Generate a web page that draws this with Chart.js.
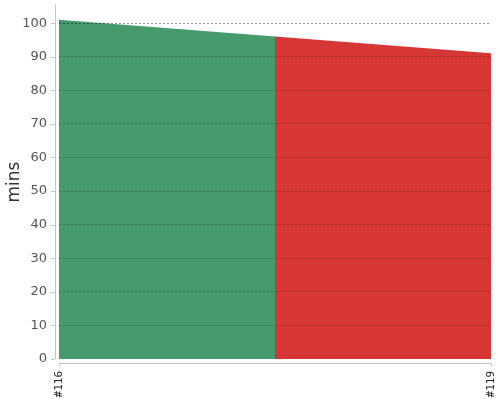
<!DOCTYPE html>
<html>
<head>
<meta charset="utf-8">
<script src="https://cdn.jsdelivr.net/npm/chart.js@4"></script>
<style>
  html, body { margin: 0; padding: 0; background: #fff; }
  #wrap { width: 500px; height: 400px; }
</style>
</head>
<body>
<div id="wrap"><canvas id="buildChart"></canvas></div>
<script>
// ビルド番号と所要時間（分）
const builds = ['#116', '#117', '#119'];
const passedMins = [101, 96, null];
const failedMins = [null, 96, 91];
const yTicks = [0, 10, 20, 30, 40, 50, 60, 70, 80, 90, 100];

// 軸のはみ出し余白は使わない
function fixBox(s, w, h) {
  if (w) s.width = w;
  if (h) s.height = h;
  s.paddingTop = 0;
  s.paddingBottom = 0;
  s.paddingLeft = 0;
  s.paddingRight = 0;
}

// グリッド色：塗りの上は薄め、0 は描かない
function gridColor(c) {
  if (!c.tick || c.tick.value === 0) return 'rgba(0,0,0,0)';
  return c.tick.value === 100 ? 'rgba(0,0,0,0.42)' : 'rgba(0,0,0,0.22)';
}

// 軸線はプロット領域から少し離して描く
const offsetAxes = {
  id: 'offsetAxes',
  afterDraw(chart) {
    const { ctx, chartArea: a, scales } = chart;
    ctx.save();
    ctx.strokeStyle = '#c4c4c4';
    ctx.lineWidth = 1;
    ctx.beginPath();
    ctx.moveTo(55.5, a.top - 1);
    ctx.lineTo(55.5, a.bottom);
    scales.y.ticks.forEach(t => {
      const y = Math.round(scales.y.getPixelForValue(t.value)) + 0.5;
      ctx.moveTo(51, y);
      ctx.lineTo(55, y);
    });
    ctx.moveTo(a.left, a.bottom + 4.5);
    ctx.lineTo(a.right, a.bottom + 4.5);
    [0, builds.length - 1].forEach(i => {
      const x = Math.round(scales.x.getPixelForValue(i)) + 0.5;
      ctx.moveTo(x, a.bottom + 4.5);
      ctx.lineTo(x, a.bottom + 7.5);
    });
    ctx.stroke();
    ctx.restore();
  }
};

new Chart(document.getElementById('buildChart'), {
  type: 'line',
  data: {
    labels: builds,
    datasets: [
      {
        data: passedMins,
        fill: 'origin',
        backgroundColor: '#459b6e',
        borderWidth: 0,
        pointRadius: 0,
        tension: 0
      },
      {
        data: failedMins,
        fill: 'origin',
        backgroundColor: '#d73636',
        borderWidth: 0,
        pointRadius: 0,
        tension: 0
      }
    ]
  },
  options: {
    responsive: true,
    maintainAspectRatio: false,
    animation: false,
    layout: { padding: { top: 5, right: 9, left: 0, bottom: 0 } },
    plugins: {
      legend: { display: false },
      tooltip: { enabled: false }
    },
    scales: {
      x: {
        offset: false,
        afterFit: (s) => fixBox(s, 0, 41),
        grid: { display: false },
        border: { display: false },
        ticks: {
          autoSkip: false,
          maxRotation: 90,
          minRotation: 90,
          padding: 4,
          color: '#222',
          font: { family: "'DejaVu Sans Mono', monospace", size: 11 },
          callback: (v, i) => (i === 0 || i === builds.length - 1) ? builds[i] : ''
        }
      },
      y: {
        min: 0,
        max: 105.4,
        z: 1,
        afterFit: (s) => fixBox(s, 59, 0),
        afterBuildTicks: (s) => { s.ticks = yTicks.map(v => ({ value: v })); },
        border: { display: false, dash: [2, 2] },
        grid: {
          z: 1,
          drawTicks: false,
          color: gridColor,
          lineWidth: 1
        },
        ticks: {
          padding: 12,
          color: '#555',
          font: { family: "'DejaVu Sans', sans-serif", size: 13 }
        },
        title: {
          display: true,
          text: 'mins',
          color: '#333',
          padding: { top: 4, bottom: 0 },
          font: { family: "'DejaVu Sans', sans-serif", size: 17 }
        }
      }
    }
  },
  plugins: [offsetAxes]
});
</script>
</body>
</html>
